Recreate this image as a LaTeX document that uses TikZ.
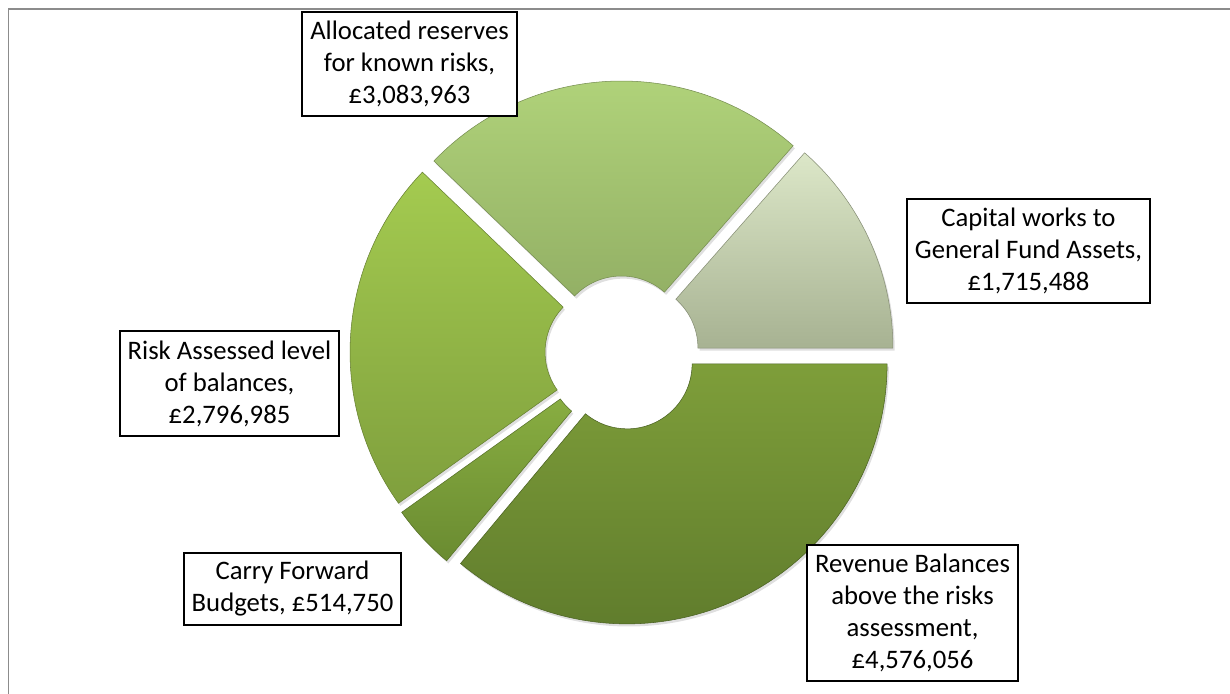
\documentclass[tikz,border=0pt]{standalone}
\usepackage{fontspec}
\setmainfont{Carlito}
\usetikzlibrary{shadows}
\definecolor{capT}{HTML}{DCE7C8}
\definecolor{capB}{HTML}{A7B292}
\definecolor{allT}{HTML}{B3D67C}
\definecolor{allB}{HTML}{93B065}
\definecolor{riskT}{HTML}{A4CB50}
\definecolor{riskB}{HTML}{7F9F3D}
\definecolor{carT}{HTML}{88AD41}
\definecolor{carB}{HTML}{6A8B31}
\definecolor{revT}{HTML}{7E9E3A}
\definecolor{revB}{HTML}{5D792B}
\begin{document}
\begin{tikzpicture}[x=0.02cm, y=0.02cm,
    lbl/.style={draw, line width=1.6pt, fill=white, align=center, inner sep=0pt,
      font=\fontsize{15.2}{18.2}\selectfont}]
  \useasboundingbox (0,0) rectangle (1230,693);
  \draw[black!45, line width=0.04cm] (8.5,-20) rectangle (1250,684);
  \coordinate (ctr) at (622,340);
  % exploded ring, counter-clockwise from 3 o'clock
  \begin{scope}[shift={(ctr)}]
    \foreach \a/\b/\tc/\bc in {0/48.68/capT/capB, 48.68/136.19/allT/allB,
        136.19/215.55/riskT/riskB, 215.55/230.16/carT/carB, 230.16/360/revT/revB}
    {
      \pgfmathsetmacro\m{(\a+\b)/2}
      \shade[top color=\tc, bottom color=\bc, draw=\bc!80!black, line width=0.3pt,
          drop shadow={opacity=0.25, shadow xshift=1pt, shadow yshift=-1.5pt},
          shift={(\m:12)}]
        (\a:260) arc[start angle=\a, end angle=\b, radius=260]
        -- (\b:65) arc[start angle=\b, end angle=\a, radius=65] -- cycle;
    }
  \end{scope}
  % labels
  \node[lbl, minimum width=4.3cm, minimum height=2.08cm] (alloc) at (409.5,629)
    {Allocated reserves\\for known risks,\\£3,083,963};
  \node[lbl, minimum width=4.86cm, minimum height=2.08cm] (capital) at (1028.5,442)
    {Capital works to\\General Fund Assets,\\£1,715,488};
  \node[lbl, minimum width=4.38cm, minimum height=2.1cm] (risk) at (229.5,309.5)
    {Risk Assessed level\\of balances,\\£2,796,985};
  \node[lbl, minimum width=4.34cm, minimum height=1.44cm] (carry) at (292.5,104)
    {Carry Forward\\Budgets, £514,750};
  \node[lbl, minimum width=4.22cm, minimum height=2.72cm] (revenue) at (912.5,80)
    {Revenue Balances\\above the risks\\assessment,\\£4,576,056};
\end{tikzpicture}
\end{document}
